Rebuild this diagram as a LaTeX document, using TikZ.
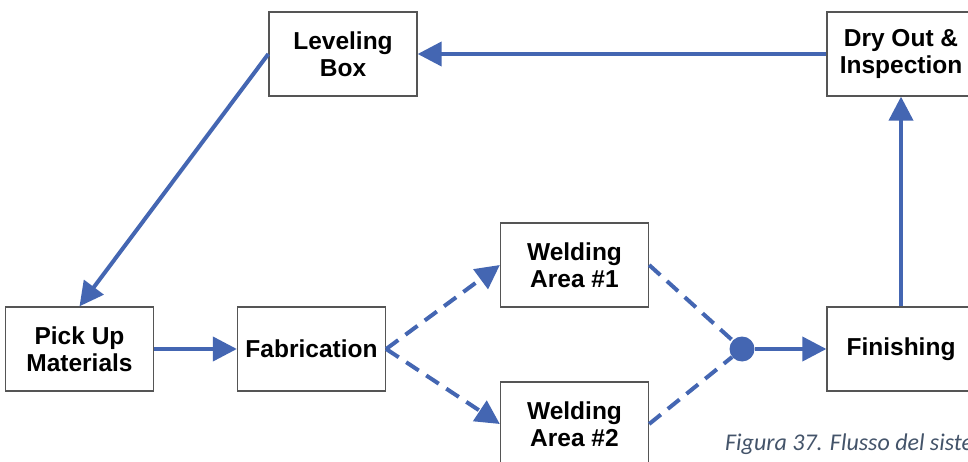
\documentclass[tikz,border=0pt]{standalone}
\usepackage{fontspec}
\setmainfont{Liberation Sans}
\newfontfamily\capfont{Carlito}
\usetikzlibrary{arrows.meta}
\definecolor{flowblue}{RGB}{68,102,178}
\definecolor{boxgray}{RGB}{85,85,85}
\definecolor{captext}{RGB}{68,84,106}
\begin{document}
\begin{tikzpicture}[x=1pt,y=-1pt,
  stepbox/.style={draw=boxgray,line width=1.3pt,fill=white,minimum width=148pt,
    minimum height=84pt,inner sep=0pt,align=center,
    font=\fontsize{24.5}{27}\selectfont\bfseries},
  flow/.style={draw=flowblue,line width=4pt,-{Triangle[length=24pt,width=24pt]}},
  plainflow/.style={draw=flowblue,line width=4pt},
  dashflow/.style={flow,dash pattern=on 15pt off 9pt},
  dashplain/.style={plainflow,dash pattern=on 15pt off 9pt},
  joint/.style={circle,fill=flowblue,inner sep=0pt,minimum size=25pt}]
\useasboundingbox (0,0) rectangle (968,462);
\clip (0,0) rectangle (968,462);
\fill[white] (0,0) rectangle (968,462);

% process boxes
\node[stepbox] (level) at (343,54) {Leveling\\Box};
\node[stepbox] (dry) at (901,54) {Dry Out \&\\Inspection};
\node[stepbox] (pick) at (79.5,349) {Pick Up\\Materials};
\node[stepbox] (fab) at (311.5,349) {Fabrication};
\node[stepbox] (weldA) at (574.5,265) {Welding\\Area \#1};
\node[stepbox] (weldB) at (574.5,424) {Welding\\Area \#2};
\node[stepbox] (finish) at (901,349) {Finishing};
\node[joint] (merge) at (742,349) {};

% connectors
\draw[flow] (dry.west) -- (level.east);
\draw[flow] (level.west) -- (pick.north);
\draw[flow] (pick.east) -- (fab.west);
\draw[dashflow] (fab.east) -- (weldA.west);
\draw[dashflow] (fab.east) -- (weldB.west);
\draw[dashplain] (weldA.east) -- (merge);
\draw[dashplain] (weldB.east) -- (merge);
\draw[flow] (merge.east) -- (finish.west);
\draw[flow] (finish.north) -- (dry.south);

% caption, running off the right edge
\node[anchor=base west,inner sep=0pt,text=captext,font=\capfont\itshape\fontsize{24}{28}\selectfont] (cap) at (725,450) {Figura 37. Flusso del siste};
\end{tikzpicture}
\end{document}
